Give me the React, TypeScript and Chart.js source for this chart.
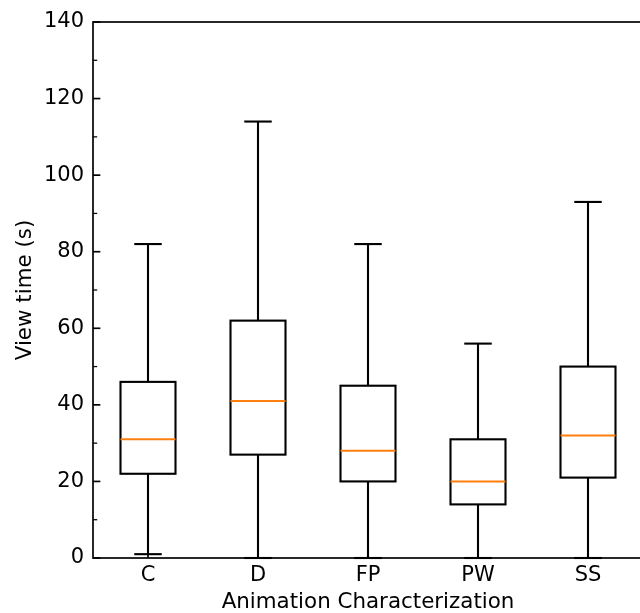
import React, { useEffect, useRef } from "react";
import { Chart, registerables } from "chart.js";

Chart.register(...registerables);

const categories = ["C", "D", "FP", "PW", "SS"];
const whiskerLow = [1, 0, 0, 0, 0];
const q1 = [22, 27, 20, 14, 21];
const median = [31, 41, 28, 20, 32];
const q3 = [46, 62, 45, 31, 50];
const whiskerHigh = [82, 114, 82, 56, 93];
const yMajorTicks = [0, 20, 40, 60, 80, 100, 120, 140];
const yMinorTicks = [10, 30, 50, 70, 90, 110, 130];
const yLabel = "View time (s)";
const xLabel = "Animation Characterization";

const FONT = "'DejaVu Sans', sans-serif";

const boxPlugin = {
  id: "boxDraw",
  afterDatasetsDraw(chart: any) {
    const { ctx, chartArea, scales } = chart;
    const x = scales.x;
    const y = scales.y;
    const step = x.getPixelForValue(1) - x.getPixelForValue(0);
    const boxHalf = step * 0.25;
    const capHalf = step * 0.125;
    const line = (x1: number, y1: number, x2: number, y2: number) => {
      ctx.beginPath();
      ctx.moveTo(x1, y1);
      ctx.lineTo(x2, y2);
      ctx.stroke();
    };
    ctx.save();
    ctx.lineCap = "butt";
    categories.forEach((_, i) => {
      const cx = x.getPixelForValue(i);
      const yLo = y.getPixelForValue(whiskerLow[i]);
      const yQ1 = y.getPixelForValue(q1[i]);
      const yMed = y.getPixelForValue(median[i]);
      const yQ3 = y.getPixelForValue(q3[i]);
      const yHi = y.getPixelForValue(whiskerHigh[i]);
      ctx.strokeStyle = "#000";
      ctx.lineWidth = 2.1;
      ctx.strokeRect(cx - boxHalf, yQ3, 2 * boxHalf, yQ1 - yQ3);
      line(cx, yQ1, cx, yLo);
      line(cx, yQ3, cx, yHi);
      line(cx - capHalf, yLo, cx + capHalf, yLo);
      line(cx - capHalf, yHi, cx + capHalf, yHi);
      ctx.strokeStyle = "#ff7f0e";
      line(cx - boxHalf, yMed, cx + boxHalf, yMed);
    });
    // ticks (inward)
    ctx.strokeStyle = "#000";
    ctx.lineWidth = 1.68;
    yMajorTicks.forEach((v) => {
      const py = y.getPixelForValue(v);
      line(chartArea.left, py, chartArea.left + 7.35, py);
    });
    categories.forEach((_, i) => {
      const px = x.getPixelForValue(i);
      line(px, chartArea.bottom, px, chartArea.bottom - 7.35);
    });
    ctx.lineWidth = 1.26;
    yMinorTicks.forEach((v) => {
      const py = y.getPixelForValue(v);
      line(chartArea.left, py, chartArea.left + 4.2, py);
    });
    // spines
    ctx.lineWidth = 1.68;
    ctx.lineCap = "square";
    ctx.strokeRect(
      chartArea.left,
      chartArea.top,
      chartArea.right - chartArea.left,
      chartArea.bottom - chartArea.top
    );
    ctx.restore();
  },
};

export default function App() {
  const ref = useRef<HTMLCanvasElement | null>(null);
  useEffect(() => {
    document.body.style.margin = "0";
    document.body.style.overflow = "hidden";
    const canvas = ref.current;
    if (!canvas) return;
    const chart = new Chart(canvas, {
      type: "bar",
      data: {
        labels: categories,
        datasets: [
          {
            data: categories.map((_, i) => [q1[i], q3[i]]) as any,
            backgroundColor: "rgba(0,0,0,0)",
            borderWidth: 0,
            barPercentage: 0.5,
            categoryPercentage: 1,
          },
        ],
      },
      options: {
        animation: false,
        responsive: false,
        devicePixelRatio: 1,
        layout: { padding: { top: 22, right: 17, left: 0, bottom: 0 } },
        plugins: { legend: { display: false }, tooltip: { enabled: false } },
        scales: {
          x: {
            grid: { display: false, drawTicks: false },
            border: { display: false },
            ticks: {
              font: { family: FONT, size: 21 },
              color: "#000",
              padding: 5,
              maxRotation: 0,
              autoSkip: false,
            },
            title: {
              display: true,
              text: xLabel,
              color: "#000",
              font: { family: FONT, size: 21.4, lineHeight: 1 },
              padding: { top: 0, bottom: 0 },
            },
            afterFit(s: any) {
              s.height = 55;
            },
          },
          y: {
            min: 0,
            max: 140,
            grid: { display: false, drawTicks: false },
            border: { display: false },
            ticks: {
              stepSize: 20,
              font: { family: FONT, size: 21 },
              color: "#000",
              padding: 9,
            },
            title: {
              display: true,
              text: yLabel,
              color: "#000",
              font: { family: FONT, size: 21.4, lineHeight: 1 },
              padding: { top: 15, bottom: 0 },
            },
            afterFit(s: any) {
              s.width = 93;
            },
          },
        },
      },
      plugins: [boxPlugin],
    });
    return () => chart.destroy();
  }, []);
  return (
    <div style={{ width: 640, height: 613, overflow: "hidden", background: "#fff" }}>
      <canvas ref={ref} width={660} height={613} style={{ display: "block" }} />
    </div>
  );
}
